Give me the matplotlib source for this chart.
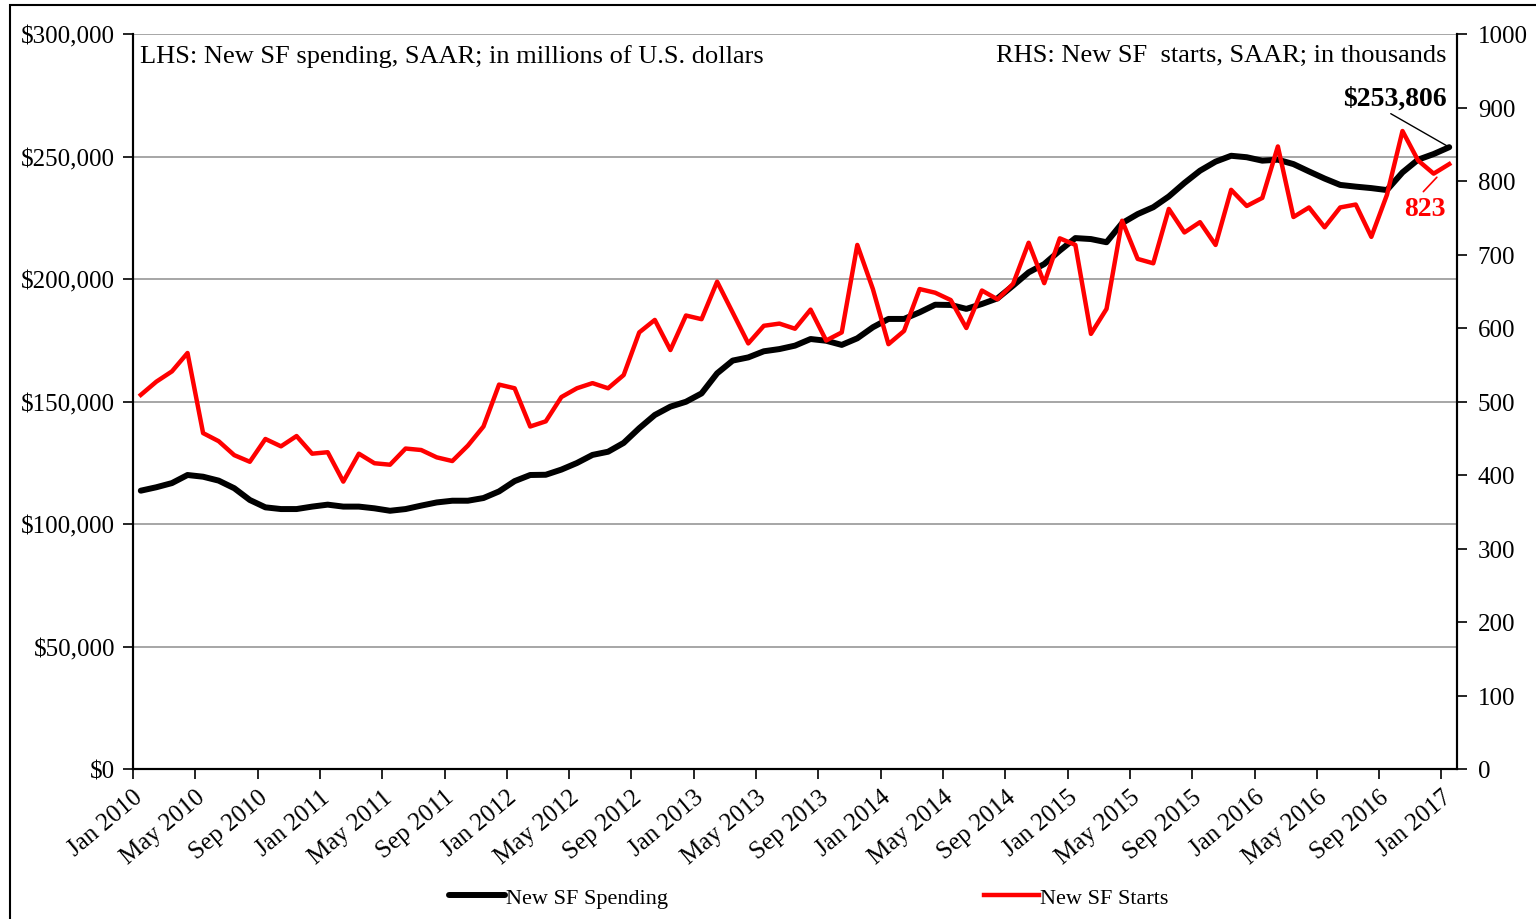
import matplotlib
matplotlib.use("Agg")
import matplotlib.pyplot as plt
from matplotlib.patches import Rectangle
from matplotlib.ticker import FuncFormatter
import numpy as np
import pandas as pd

# monthly data, Jan 2010 - Jan 2017
months = pd.date_range("2010-01-01", periods=85, freq="MS")

# new single-family construction spending, SAAR, millions of $
sf_spending = [
    113600, 115000, 116700, 120000, 119300, 117700, 114600, 109800, 106800, 106100,
    106100, 107100, 107900, 107100, 107100, 106400, 105400, 106100, 107500, 108800,
    109500, 109500, 110600, 113300, 117500, 120000, 120100, 122200, 124900, 128200,
    129500, 133100, 139100, 144500, 147900, 149900, 153300, 161500, 166700, 168000,
    170500, 171400, 172800, 175500, 174800, 173100, 175800, 180300, 183700, 183700,
    186400, 189500, 189400, 187800, 189800, 192100, 197300, 202700, 206100, 211600,
    216700, 216300, 215000, 222800, 226500, 229300, 233700, 239200, 244200, 247900,
    250300, 249700, 248300, 248700, 246900, 243900, 241000, 238400, 237700, 237100,
    236300, 243500, 248700, 251000, 253806,
]

# new single-family starts, SAAR, thousands
sf_starts = [
    509, 527, 541, 566, 457, 446, 427, 418, 449, 439,
    453, 429, 431, 391, 429, 416, 414, 436, 434, 424,
    419, 440, 466, 523, 518, 466, 473, 506, 518, 525,
    518, 536, 594, 611, 570, 617, 612, 663, 621, 579,
    603, 606, 599, 625, 583, 594, 713, 653, 578, 596,
    653, 648, 638, 600, 651, 639, 660, 716, 661, 722,
    713, 592, 626, 746, 694, 688, 762, 730, 744, 713,
    788, 766, 777, 847, 751, 764, 737, 764, 768, 724,
    781, 868, 828, 810, 823,
]

left_ticks = [0, 50000, 100000, 150000, 200000, 250000, 300000]
right_ticks = [0, 100, 200, 300, 400, 500, 600, 700, 800, 900, 1000]

plt.rcParams["font.family"] = ["Liberation Serif", "DejaVu Serif"]

fig = plt.figure(figsize=(15.36, 9.2), dpi=100)
ax = fig.add_axes([133 / 1536, 1 - 770 / 920, (1457 - 133) / 1536, (770 - 35) / 920])
ax2 = ax.twinx()

# points sit in the middle of each month, like the excel date axis
x = np.arange(len(months)) + 0.5

ax.plot(x, sf_spending, color="black", lw=4.3, solid_capstyle="round",
        solid_joinstyle="round", label="New SF Spending", zorder=3)
ax2.plot(x, sf_starts, color="#ff0000", lw=3.2, solid_joinstyle="round",
         label="New SF Starts", zorder=3)

ax.set_xlim(0, len(months))
ax.set_ylim(0, 300000)
ax2.set_ylim(0, 1000)
ax.set_yticks(left_ticks)
ax2.set_yticks(right_ticks)
ax.yaxis.set_major_formatter(FuncFormatter(lambda v, p: "${:,.0f}".format(v)))

tick_pos = np.arange(0, len(months), 4)
ax.set_xticks(tick_pos)
ax.set_xticklabels([months[i].strftime("%b %Y") for i in tick_pos],
                   rotation=40, ha="right", rotation_mode="anchor", fontsize=18)

ax.grid(axis="y", color="#a6a6a6", lw=1.4)
ax.set_axisbelow(True)
ax.tick_params(axis="y", labelsize=18, length=7, width=1.2, direction="out", pad=6)
ax.tick_params(axis="x", length=7, width=1.2, direction="out", pad=5)
ax2.tick_params(axis="y", labelsize=18, length=7, width=1.2, direction="out", pad=8)

for a in (ax, ax2):
    a.spines["top"].set_visible(False)
    for s in ("left", "right", "bottom"):
        a.spines[s].set_linewidth(1.5)

ax.text(0.005, 0.971, "LHS: New SF spending, SAAR; in millions of U.S. dollars",
        transform=ax.transAxes, ha="left", va="center", fontsize=19)
ax.text(0.9924, 0.971, "RHS: New SF  starts, SAAR; in thousands",
        transform=ax.transAxes, ha="right", va="center", fontsize=19)

# labels on the last values
ax.annotate("$253,806", xy=(x[-1], sf_spending[-1]), xytext=(x[-1] - 0.15, 274000),
            ha="right", va="center", fontsize=20, fontweight="bold",
            arrowprops=dict(arrowstyle="-", lw=1, color="black", relpos=(0.4, 0),
                            shrinkA=1, shrinkB=0))
ax2.annotate("823", xy=(x[-1], sf_starts[-1]), xytext=(x[-1] - 1.55, 762),
             ha="center", va="center", fontsize=20, fontweight="bold", color="#ff0000",
             arrowprops=dict(arrowstyle="-", lw=1.2, color="#ff0000", relpos=(0.35, 1),
                             shrinkA=2, shrinkB=13))

h1, l1 = ax.get_legend_handles_labels()
h2, l2 = ax2.get_legend_handles_labels()
fig.legend(h1 + h2, l1 + l2, loc="center", bbox_to_anchor=(809 / 1536, 1 - 899 / 920),
           ncol=2, frameon=False, fontsize=16, handlelength=2.5, handletextpad=0.05,
           columnspacing=14.2)

# outer frame of the original exhibit
fig.add_artist(Rectangle((10 / 1536, -0.1), 1.2, 1.1 - 6 / 920, transform=fig.transFigure,
                         fill=False, lw=1.5, edgecolor="black"))

fig.savefig("out.png", dpi=100)
